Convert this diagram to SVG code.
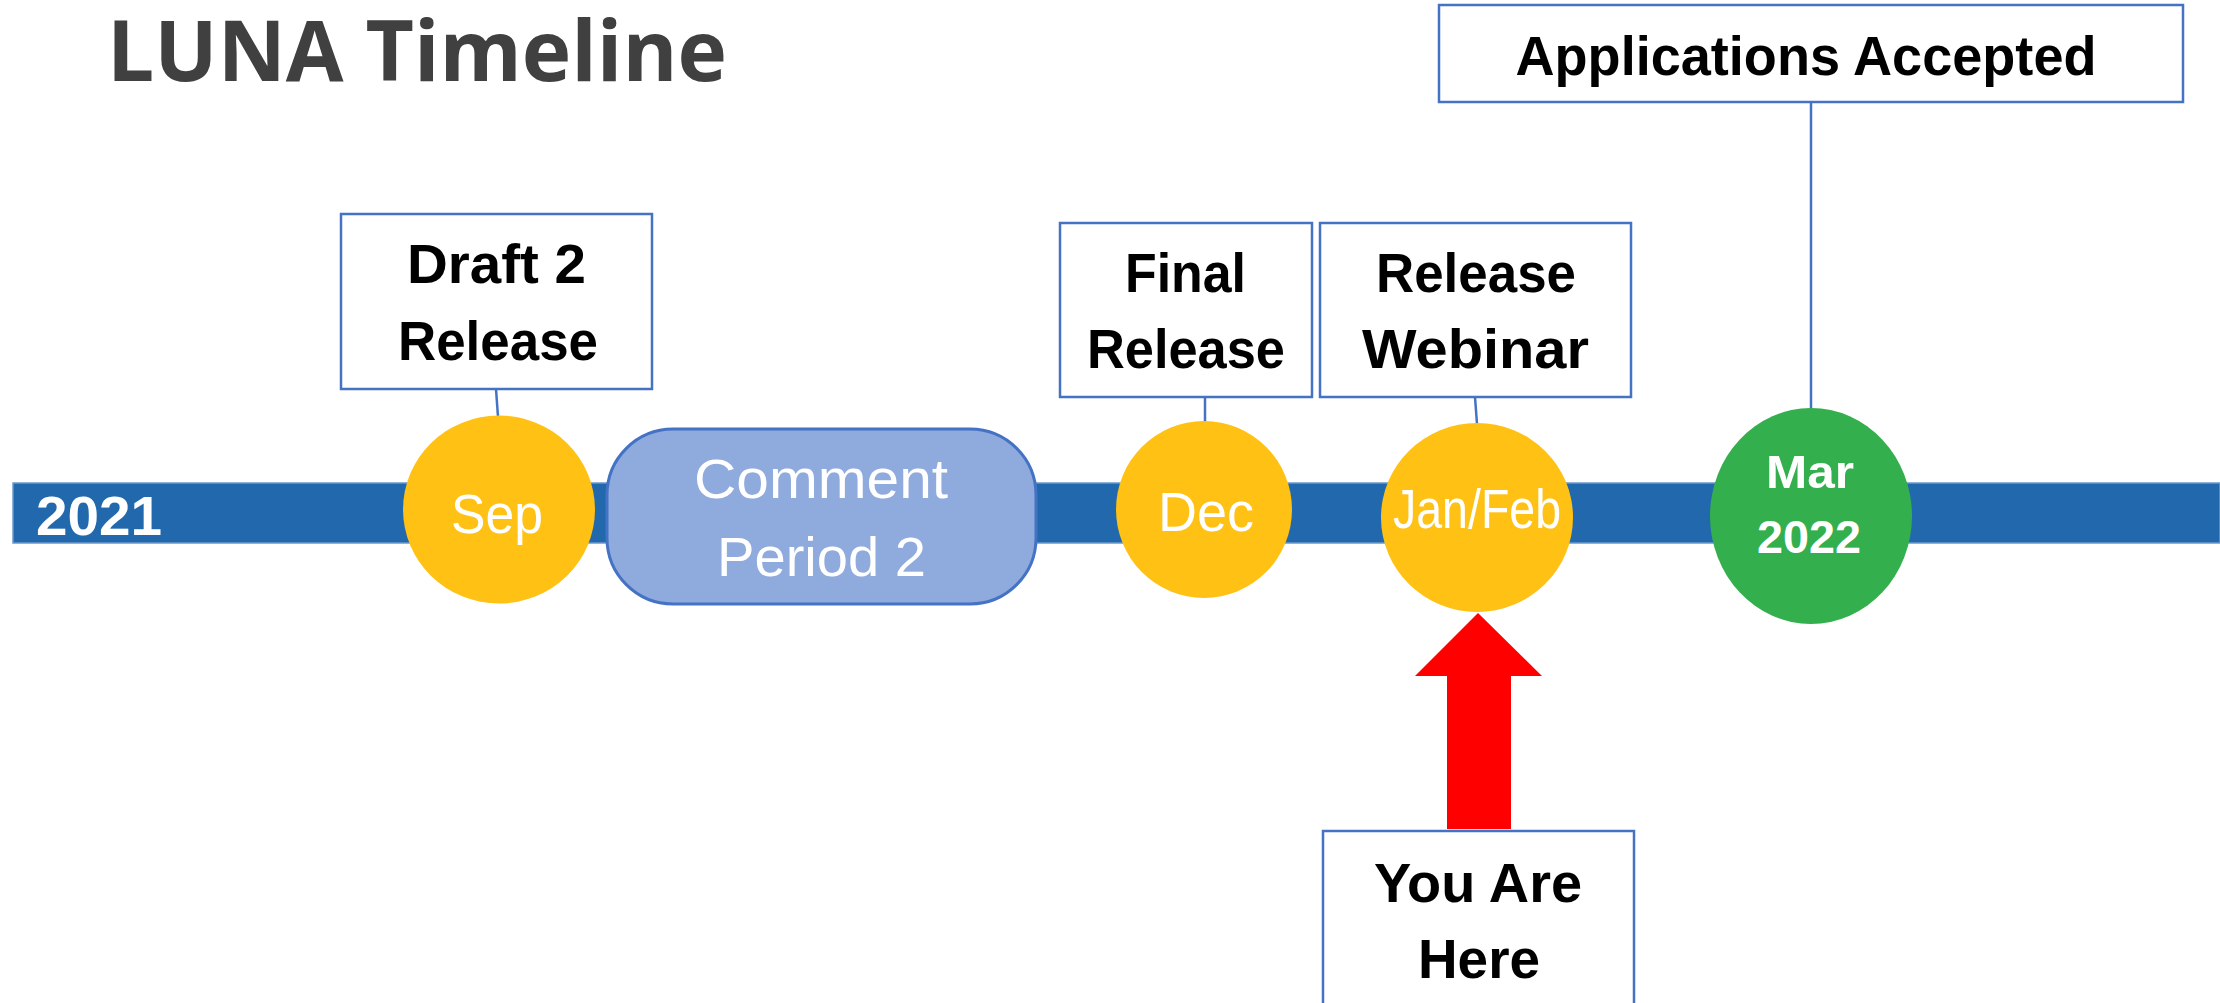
<svg xmlns="http://www.w3.org/2000/svg" width="2220" height="1003" viewBox="0 0 2220 1003">
<style>
.box{fill:#fff;stroke:#4472C4;stroke-width:2.5}
.lbl{font-family:"Liberation Sans",Arial,sans-serif;font-weight:bold;font-size:56px;fill:#000;text-anchor:middle}
.wt{font-family:"Liberation Sans",Arial,sans-serif;font-size:56px;fill:#fff;text-anchor:middle}
.wb{font-family:"Liberation Sans",Arial,sans-serif;font-weight:bold;fill:#fff}
.gold{fill:#FFC114}
.conn{stroke:#4472C4;stroke-width:2.5;fill:none}
</style>
<rect width="2220" height="1003" fill="#fff"/>
<g id="title">
<text x="107" y="81" font-family="'Open Sans',sans-serif" font-weight="bold" font-size="85" fill="#404040" textLength="620" lengthAdjust="spacingAndGlyphs">LUNA Timeline</text>
</g>
<g id="timeline">
<rect x="13" y="483" width="2207" height="60" fill="#2268AC" stroke="#6E98CC" stroke-width="1.5"/>
<text class="wb" x="36" y="535" font-size="56" textLength="126" lengthAdjust="spacingAndGlyphs">2021</text>
</g>
<g id="connectors">
<line class="conn" x1="496" y1="389" x2="498" y2="417"/>
<line class="conn" x1="1205" y1="397" x2="1205" y2="422"/>
<line class="conn" x1="1475" y1="397" x2="1477" y2="424"/>
<line class="conn" x1="1811" y1="102" x2="1811" y2="409"/>
</g>
<g id="node-sep">
<ellipse class="gold" cx="499" cy="509.5" rx="96" ry="94"/>
<text class="wt" x="497" y="533" textLength="92" lengthAdjust="spacingAndGlyphs">Sep</text>
</g>
<g id="node-comment">
<rect x="607" y="429" width="429" height="175" rx="66" ry="66" fill="#8FAADC" stroke="#4472C4" stroke-width="3"/>
<text class="wt" x="821" y="498" textLength="254" lengthAdjust="spacingAndGlyphs">Comment</text>
<text class="wt" x="821.5" y="576" textLength="209" lengthAdjust="spacingAndGlyphs">Period 2</text>
</g>
<g id="node-dec">
<ellipse class="gold" cx="1204" cy="509.5" rx="88" ry="88.5"/>
<text class="wt" x="1206" y="531" textLength="96" lengthAdjust="spacingAndGlyphs">Dec</text>
</g>
<g id="node-janfeb">
<ellipse class="gold" cx="1477" cy="517.5" rx="96" ry="94.5"/>
<text class="wt" x="1477" y="528" font-size="47" textLength="168" lengthAdjust="spacingAndGlyphs">Jan/Feb</text>
</g>
<g id="node-mar">
<ellipse cx="1811" cy="516" rx="101" ry="108" fill="#33AF4E"/>
<text class="wb" x="1810" y="488" font-size="47" text-anchor="middle" textLength="88" lengthAdjust="spacingAndGlyphs">Mar</text>
<text class="wb" x="1809" y="553" font-size="47" text-anchor="middle" textLength="104" lengthAdjust="spacingAndGlyphs">2022</text>
</g>
<g id="box-draft2">
<rect class="box" x="341" y="214" width="311" height="175"/>
<text class="lbl" x="496.5" y="283" textLength="179" lengthAdjust="spacingAndGlyphs">Draft 2</text>
<text class="lbl" x="498" y="360" textLength="200" lengthAdjust="spacingAndGlyphs">Release</text>
</g>
<g id="box-final">
<rect class="box" x="1060" y="223" width="252" height="174"/>
<text class="lbl" x="1185.5" y="292" textLength="121" lengthAdjust="spacingAndGlyphs">Final</text>
<text class="lbl" x="1186" y="368" textLength="198" lengthAdjust="spacingAndGlyphs">Release</text>
</g>
<g id="box-webinar">
<rect class="box" x="1320" y="223" width="311" height="174"/>
<text class="lbl" x="1476" y="292" textLength="200" lengthAdjust="spacingAndGlyphs">Release</text>
<text class="lbl" x="1475.5" y="368" textLength="227" lengthAdjust="spacingAndGlyphs">Webinar</text>
</g>
<g id="box-applications">
<rect class="box" x="1439" y="5" width="744" height="97"/>
<text class="lbl" x="1806" y="75" textLength="581" lengthAdjust="spacingAndGlyphs">Applications Accepted</text>
</g>
<g id="arrow-here">
<polygon points="1478,613 1542,676 1511,676 1511,829 1447,829 1447,676 1415,676" fill="#FF0000"/>
</g>
<g id="box-here">
<rect class="box" x="1323" y="831" width="311" height="190"/>
<text class="lbl" x="1478" y="902" textLength="208" lengthAdjust="spacingAndGlyphs">You Are</text>
<text class="lbl" x="1479" y="978" textLength="122" lengthAdjust="spacingAndGlyphs">Here</text>
</g>
</svg>
